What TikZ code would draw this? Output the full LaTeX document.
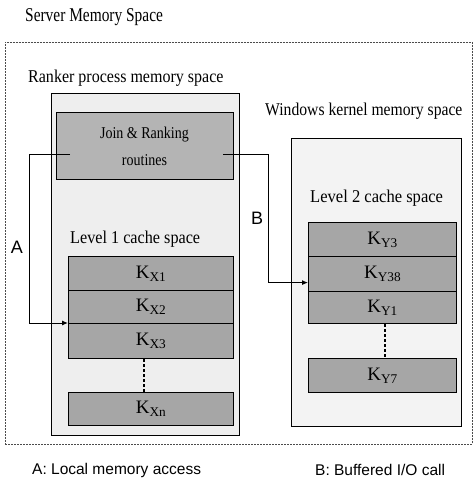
\documentclass[tikz,border=0pt]{standalone}
\usepackage{fontspec}
\setmainfont{Liberation Serif}
\newfontfamily\legendfont{Liberation Sans}
\usetikzlibrary{calc,arrows.meta}
\definecolor{cellgray}{HTML}{A6A6A6}
\definecolor{joingray}{HTML}{B4B4B4}
\definecolor{spacegray}{HTML}{EEEEEE}
\definecolor{kernelgray}{HTML}{F3F3F3}
\newcommand{\narrow}[2]{\scalebox{#1}[1]{#2}}
\tikzset{
  box/.style={draw=black, line width=1.2pt, inner sep=0pt, anchor=north west},
  spacebox/.style={box, fill=spacegray},
  cellbox/.style={box, fill=cellgray},
  joinbox/.style={box, fill=joingray},
  lbl/.style={inner sep=0pt, anchor=west, font=\fontsize{18}{20}\selectfont},
  klbl/.style={inner sep=0pt, font=\fontsize{19}{21}\selectfont},
  sanslbl/.style={inner sep=0pt, font=\legendfont\fontsize{15.5}{18}\selectfont},
  conn/.style={line width=1pt, -{Latex[length=6pt,width=5pt]}},
  dotline/.style={line width=2.2pt, dash pattern=on 2.5pt off 2.5pt},
}
\begin{document}
\begin{tikzpicture}[x=1pt,y=-1pt]
\useasboundingbox (0,0) rectangle (475,497);
% outer
\node[box, draw=black!70, line width=0.8pt, dash pattern=on 2pt off 1pt, minimum width=467pt, minimum height=402pt] (outer) at (5,42) {};
\node[lbl, font=\fontsize{19.5}{22}\selectfont] (title) at (25,17) {\narrow{0.79}{Server Memory Space}};
% ranker space
\node[spacebox, minimum width=188pt, minimum height=342pt] (ranker) at (51,93) {};
\node[lbl] (rankerlbl) at (28,78) {\narrow{0.89}{Ranker process memory space}};
% kernel space
\node[box, fill=kernelgray, minimum width=170pt, minimum height=288pt] (kernel) at (291,138) {};
\node[lbl] (kernellbl) at (265,111) {\narrow{0.87}{Windows kernel memory space}};
% join box
\node[joinbox, minimum width=177pt, minimum height=67pt] (join) at (56,112) {};
\node[klbl, font=\fontsize{16.5}{18}\selectfont] (jointxt1) at (144.5,135) {\narrow{0.85}{Join \& Ranking}};
\node[klbl, font=\fontsize{16.5}{18}\selectfont] (jointxt2) at (144.5,160) {\narrow{0.85}{routines}};
% level 1
\node[lbl] (l1lbl) at (70,239) {\narrow{0.9}{Level 1 cache space}};
\node[cellbox, minimum width=165pt, minimum height=34pt] (kx1) at (68,256) {};
\node[cellbox, minimum width=165pt, minimum height=33pt] (kx2) at (68,290) {};
\node[cellbox, minimum width=165pt, minimum height=35pt] (kx3) at (68,323) {};
\node[cellbox, minimum width=165pt, minimum height=33pt] (kxn) at (68,392) {};
\node[klbl] (tkx1) at (kx1.center) {K\textsubscript{X1}};
\node[klbl] (tkx2) at (kx2.center) {K\textsubscript{X2}};
\node[klbl] (tkx3) at (kx3.center) {K\textsubscript{X3}};
\node[klbl] (tkxn) at (kxn.center) {K\textsubscript{Xn}};
\draw[dotline] ([xshift=-7pt]kx3.south) -- ([xshift=-7pt]kxn.north);
% level 2
\node[lbl] (l2lbl) at (310,198) {\narrow{0.92}{Level 2 cache space}};
\node[cellbox, minimum width=148pt, minimum height=34pt] (ky3) at (308,222) {};
\node[cellbox, minimum width=148pt, minimum height=35pt] (ky38) at (308,256) {};
\node[cellbox, minimum width=148pt, minimum height=32pt] (ky1) at (308,291) {};
\node[cellbox, minimum width=148pt, minimum height=34pt] (ky7) at (308,358) {};
\node[klbl] (tky3) at (ky3.center) {K\textsubscript{Y3}};
\node[klbl] (tky38) at (ky38.center) {K\textsubscript{Y38}};
\node[klbl] (tky1) at (ky1.center) {K\textsubscript{Y1}};
\node[klbl] (tky7) at (ky7.center) {K\textsubscript{Y7}};
\draw[dotline] ([xshift=2pt]ky1.south) -- ([xshift=2pt]ky7.north);
% connectors
\coordinate (aX) at (29,0);
\coordinate (bX) at (268,0);
\coordinate (jA) at ([xshift=14pt,yshift=-8.5pt]join.west);
\coordinate (jB) at ([xshift=-11pt,yshift=-8.5pt]join.east);
\coordinate (kyB) at ([yshift=-8.5pt]ky38.west);
\draw[conn] (jA) -- (jA -| aX) -- (aX |- kx3.north west) -- (kx3.north west);
\draw[conn] (jB) -- (jB -| bX) -- (bX |- kyB) -- (kyB);
\node[sanslbl, font=\legendfont\fontsize{18}{20}\selectfont] (alabel) at (17,247) {A};
\node[sanslbl, font=\legendfont\fontsize{18}{20}\selectfont] (blabel) at (257,218) {B};
% legend
\node[sanslbl, anchor=west] (lega) at (32,470) {A: Local memory access};
\node[sanslbl, anchor=west] (legb) at (315,470) {B: Buffered I/O call};
\end{tikzpicture}
\end{document}
